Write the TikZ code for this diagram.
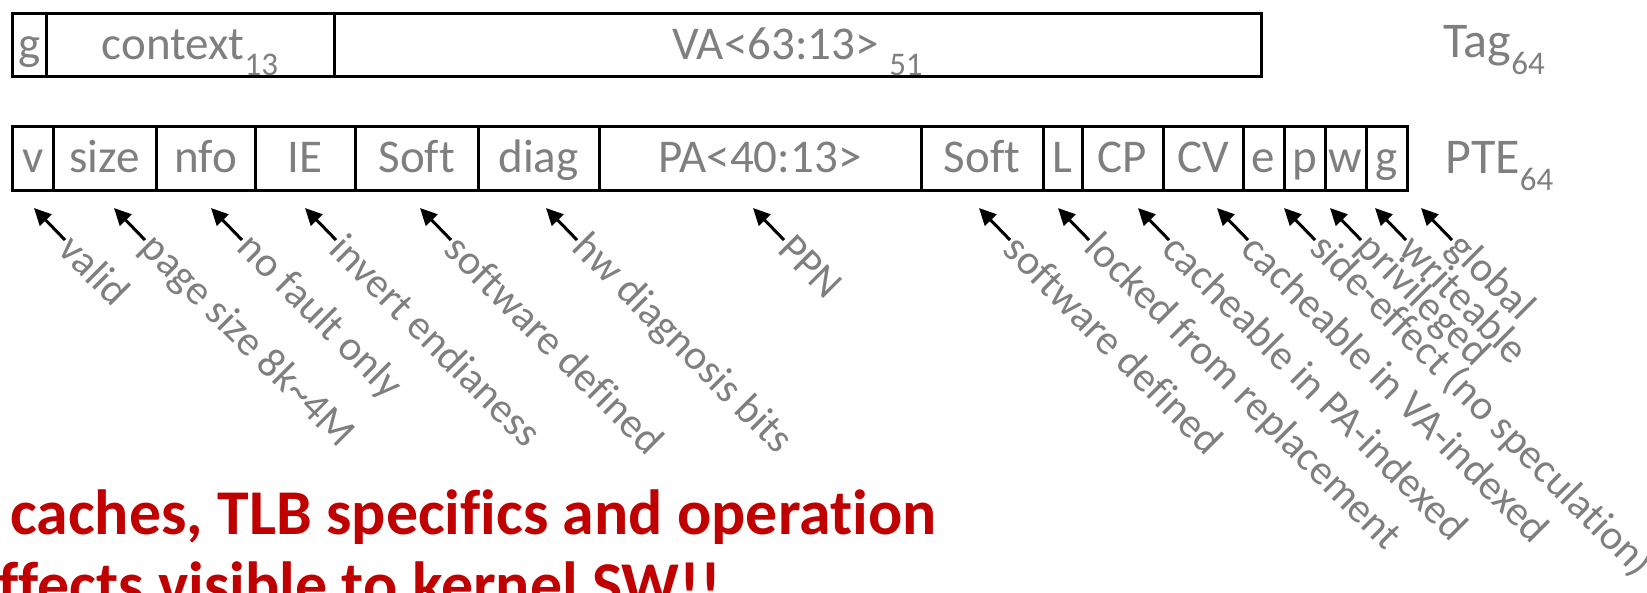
\documentclass[tikz,border=0pt]{standalone}
\usepackage{fontspec}
\setmainfont{Carlito}[Ligatures=NoCommon]
\usetikzlibrary{arrows.meta}
\definecolor{txtgray}{RGB}{127,127,127}
\definecolor{alertred}{RGB}{192,0,0}
\newcommand{\lowsub}[1]{\raisebox{-0.34em}{\fontsize{16.5}{16.5}\selectfont #1}}
\begin{document}
\begin{tikzpicture}[x=0.5pt,y=-0.5pt,
  field/.style={draw=black,line width=1.5pt,minimum height=32pt,inner sep=0pt,text=txtgray,
    font=\fontsize{23.5}{23.5}\selectfont,text height=15pt,text depth=1pt},
  tagfield/.style={field,minimum height=31.5pt},
  rowname/.style={anchor=base west,inner sep=0pt,text=txtgray,font=\fontsize{25}{25}\selectfont},
  callout/.style={rotate=-45,anchor=west,inner sep=1pt,text=txtgray,font=\fontsize{21}{21}\selectfont},
  pointer/.style={-{Triangle[length=8.5pt,width=8pt]},line width=1.5pt,black},
  alert/.style={anchor=base west,inner sep=0pt,text=alertred,font=\fontsize{31.9}{31.9}\selectfont\bfseries}
]
\useasboundingbox (0,0) rectangle (1647,593);

% Tag row
\node[tagfield,minimum width=16.7pt] (tg) at (29.3,45.5) {g};
\node[tagfield,minimum width=144pt] (tctx) at (190,45.5) {context\lowsub{13}};
\node[tagfield,minimum width=463.5pt] (tva) at (797.5,45.5) {VA<63:13> \lowsub{51}};
\node[rowname] (tagname) at (1443,58) {Tag\lowsub{64}};

% PTE row
\node[field,minimum width=20.2pt] (fv) at (32.8,159) {v};
\node[field,minimum width=51.5pt] (fsize) at (104.5,159) {size};
\node[field,minimum width=49.5pt] (fnfo) at (205.5,159) {nfo};
\node[field,minimum width=50.25pt] (fie) at (305.25,159) {IE};
\node[field,minimum width=61.25pt] (fsoft) at (416.75,159) {Soft};
\node[field,minimum width=60.5pt] (fdiag) at (538.5,159) {diag};
\node[field,minimum width=161pt] (fpa) at (760,159) {PA<40:13>};
\node[field,minimum width=61pt] (fsofttwo) at (982,159) {Soft};
\node[field,minimum width=19.5pt] (fl) at (1062.5,159) {L};
\node[field,minimum width=40.5pt] (fcp) at (1122.5,159) {CP};
\node[field,minimum width=40pt] (fcv) at (1203,159) {CV};
\node[field,minimum width=20.5pt] (fe) at (1263.5,159) {e};
\node[field,minimum width=20.5pt] (fp) at (1304.5,159) {p};
\node[field,minimum width=20.5pt] (fw) at (1345.5,159) {w};
\node[field,minimum width=20.5pt] (fg) at (1386.5,159) {g};
\node[rowname] (ptename) at (1445,174) {PTE\lowsub{64}};

% callouts
\coordinate (t1) at (34,208);    \node[callout] (l1) at (65,240) {valid};
\coordinate (t2) at (114,208);   \node[callout] (l2) at (145,240) {page size 8k\textasciitilde 4M};
\coordinate (t3) at (211,208);   \node[callout] (l3) at (242,240) {no fault only};
\coordinate (t4) at (305,208);   \node[callout] (l4) at (336,240) {invert endianess};
\coordinate (t5) at (420,208);   \node[callout] (l5) at (451,240) {software defined};
\coordinate (t6) at (546,208);   \node[callout] (l6) at (577,240) {hw diagnosis bits};
\coordinate (t7) at (753,208);   \node[callout] (l7) at (784,240) {PPN};
\coordinate (t8) at (979,208);   \node[callout] (l8) at (1010,240) {software defined};
\coordinate (t9) at (1058,208);  \node[callout] (l9) at (1089,240) {locked from replacement};
\coordinate (t10) at (1138,208); \node[callout] (l10) at (1169,240) {cacheable in PA-indexed};
\coordinate (t11) at (1217,208); \node[callout] (l11) at (1248,240) {cacheable in VA-indexed};
\coordinate (t12) at (1284,208); \node[callout] (l12) at (1315,240) {side-effect (no speculation)};
\coordinate (t13) at (1330,208); \node[callout] (l13) at (1361,240) {privileged};
\coordinate (t14) at (1375,208); \node[callout] (l14) at (1406,240) {writeable};
\coordinate (t15) at (1421,208); \node[callout] (l15) at (1452,240) {global};
\foreach \i in {1,...,15} { \draw[pointer] (l\i.west) -- (t\i); }

% red remark
\node[alert] (rem1) at (10,534) {caches, TLB specifics and operation};
\node[alert] (rem2) at (-2,606) {ffects visible to kernel SW!!};
\end{tikzpicture}
\end{document}
